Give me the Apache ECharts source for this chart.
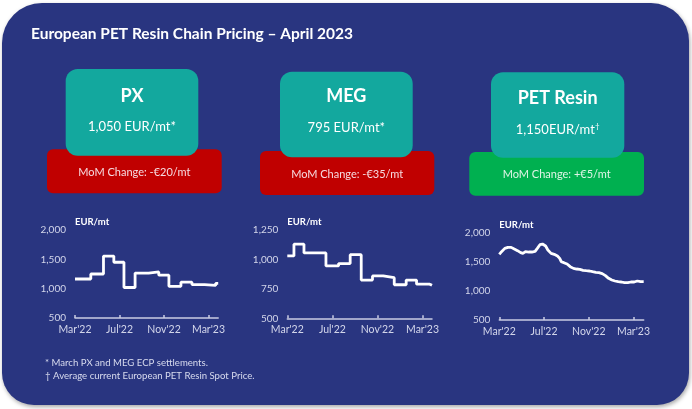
<!DOCTYPE html>
<html><head><meta charset="utf-8">
<script src="https://cdn.jsdelivr.net/npm/echarts@6/dist/echarts.min.js"></script>
<style>
html,body{margin:0;padding:0;background:#fff;}
#main{position:absolute;left:0;top:0;width:692px;height:409px;}
.mini{position:absolute;height:135px;}
</style></head>
<body>
<div id="main"></div>
<div id="c1" class="mini" style="left:20px;top:205px;width:208px;"></div>
<div id="c2" class="mini" style="left:235px;top:205px;width:207px;"></div>
<div id="c3" class="mini" style="left:445px;top:205px;width:208px;"></div>
<script>
// ---- data ----
const titleText = "European PET Resin Chain Pricing \u2013 April 2023";
const products = ["PX", "MEG", "PET Resin"];
const prices = ["1,050 EUR/mt*", "795 EUR/mt*", "1,150EUR/mt"];
const priceMarks = ["", "", "\u2020"];
const momChanges = ["MoM Change: -\u20ac20/mt", "MoM Change: -\u20ac35/mt", "MoM Change: +\u20ac5/mt"];
const footnotes = ["* March PX and MEG ECP settlements.", "\u2020 Average current European PET Resin Spot Price."];
const tickLabels = ["Mar'22", "Jul'22", "Nov'22", "Mar'23"];
const unitLabel = "EUR/mt";

// months since start of Mar 2022
const pxMonths = [0, 1.42, 2.56, 3.49, 4.40, 5.40, 6.62, 7.53, 8.44, 9.52, 10.51, 11.65, 12.64, 12.87];
const pxValues = [1165, 1250, 1555, 1450, 1020, 1265, 1285, 1230, 1040, 1110, 1070, 1055, 1090, 1090];

const megMonths = [0, 0.59, 1.48, 3.43, 4.55, 5.58, 6.56, 7.56, 8.51, 9.49, 10.55, 11.47, 12.64, 12.84];
const megValues = [1030, 1130, 1055, 945, 965, 1040, 825, 860, 845, 785, 825, 790, 780, 780];

const petMonths = [0, 0.2, 0.49, 0.77, 1.06, 1.34, 1.63, 1.91, 2.11, 2.34, 2.63, 2.91, 3.2, 3.4, 3.63, 3.86, 4.14, 4.34, 4.63, 4.91, 5.2, 5.4, 5.54, 5.77, 6.06, 6.34, 6.63, 6.91, 7.2, 7.49, 7.77, 8.06, 8.34, 8.63, 8.91, 9.2, 9.49, 9.77, 10.06, 10.34, 10.63, 10.91, 11.2, 11.49, 11.77, 12.06, 12.34, 12.63, 12.91];
const petValues = [1628, 1674, 1731, 1748, 1748, 1719, 1691, 1657, 1645, 1674, 1668, 1668, 1679, 1731, 1794, 1805, 1771, 1702, 1645, 1628, 1599, 1559, 1502, 1485, 1462, 1416, 1387, 1376, 1370, 1353, 1347, 1342, 1330, 1319, 1313, 1296, 1262, 1216, 1187, 1170, 1158, 1153, 1141, 1141, 1153, 1153, 1170, 1158, 1158];

// ---- styles ----
const FONT = "Lato";
const NAVY = "#293580";
const TEAL = "#13a89e";
const boxColors = ["#c00000", "#c00000", "#00b050"];
const momTextColors = ["#f6dbe0", "#f6dbe0", "#dff4e6"];

// ---- main canvas: background, boxes, text ----
const main = echarts.init(document.getElementById('main'));
const teal = [[65.7, 69, 132.6, 86.7], [280, 71.7, 132.7, 85.6], [491, 72.3, 133.3, 85.4]];
const low = [[47, 149.3, 174.7, 44], [260, 151, 174.3, 44], [469.3, 152, 174.7, 43.7]];
const nameY = [96, 96.3, 97.7];
const priceY = [126.7, 128.3, 129.7];
const graphics = [
  {type:'rect', shape:{x:2, y:3, width:687, height:402, r:[40, 38, 32, 32]},
   style:{fill:NAVY, shadowBlur:4, shadowOffsetX:1, shadowOffsetY:2, shadowColor:'rgba(0,0,0,0.35)'}},
  {type:'text', x:31, y:34, style:{text:titleText, fill:'#ffffff', font:'bold 15.5px ' + FONT, textVerticalAlign:'middle'}}
];
for (let i = 0; i < 3; i++) {
  const l = low[i], t = teal[i];
  graphics.push({type:'rect', shape:{x:l[0], y:l[1], width:l[2], height:l[3], r:6}, style:{fill:boxColors[i]}});
  graphics.push({type:'rect', shape:{x:t[0], y:t[1], width:t[2], height:t[3], r:12}, style:{fill:TEAL}});
  const cx = t[0] + t[2] / 2;
  graphics.push({type:'text', x:cx, y:nameY[i], style:{text:products[i], fill:'#ffffff', font:'bold 18px ' + FONT, textAlign:'center', textVerticalAlign:'middle'}});
  const rt = priceMarks[i] ? '{a|' + prices[i] + '}{s|' + priceMarks[i] + '}' : '{a|' + prices[i] + '}';
  graphics.push({type:'text', x:cx, y:priceY[i], style:{
    text:rt, textAlign:'center', textVerticalAlign:'middle',
    rich:{a:{fill:'#ffffff', font:'13px ' + FONT}, s:{fill:'#ffffff', font:'8px ' + FONT, verticalAlign:'top', padding:[0,0,7,0]}}
  }});
  graphics.push({type:'text', x:l[0] + l[2] / 2, y:l[1] + l[3] / 2 + 1, style:{text:momChanges[i], fill:momTextColors[i], font:'11px ' + FONT, textAlign:'center', textVerticalAlign:'middle'}});
}
graphics.push({type:'text', x:45, y:363, style:{text:footnotes[0], fill:'#d8dbee', font:'9.6px ' + FONT, textVerticalAlign:'middle'}});
graphics.push({type:'text', x:45, y:375.5, style:{text:footnotes[1], fill:'#d8dbee', font:'9.6px ' + FONT, textVerticalAlign:'middle'}});
main.setOption({animation:false, graphic:graphics});

// ---- mini charts ----
function mini(id, grid, months, values, yMin, yMax, yInt, step) {
  const ch = echarts.init(document.getElementById(id));
  ch.setOption({
    animation:false,
    grid:grid,
    xAxis:{type:'value', min:0, max:months[months.length - 1],
      axisLine:{show:true, lineStyle:{color:'#c9cce2', width:1.5}},
      axisTick:{show:true, inside:true, length:3, customValues:[0, 4, 8, 12], lineStyle:{color:'#c9cce2', width:1.5}},
      axisLabel:{customValues:[0, 4, 8, 12], color:'#d3d6ea', fontFamily:FONT, fontSize:10.5, margin:6,
        formatter:function(v){ return tickLabels[Math.round(v / 4)]; }},
      splitLine:{show:false}},
    yAxis:{type:'value', min:yMin, max:yMax, interval:yInt,
      name:unitLabel, nameLocation:'end', nameGap:3,
      nameTextStyle:{color:'#ffffff', fontFamily:FONT, fontWeight:'bold', fontSize:9.5, align:'left'},
      axisLine:{show:false}, axisTick:{show:false}, splitLine:{show:false},
      axisLabel:{color:'#d3d6ea', fontFamily:FONT, fontSize:10, margin:9,
        formatter:function(v){ return v.toLocaleString('en-US'); }}},
    series:[{type:'line', step:step, showSymbol:false, symbol:'none',
      lineStyle:{color:'#ffffff', width:2.8},
      data:months.map(function(m, i){ return [m, values[i]]; })}]
  });
}
mini('c1', {left:55, top:25, width:151, height:88}, pxMonths, pxValues, 500, 2000, 500, 'end');
mini('c2', {left:52.3, top:25, width:152.7, height:88.3}, megMonths, megValues, 500, 1250, 250, 'end');
mini('c3', {left:54.3, top:27.7, width:151, height:87.3}, petMonths, petValues, 500, 2000, 500, false);
</script>
</body></html>
